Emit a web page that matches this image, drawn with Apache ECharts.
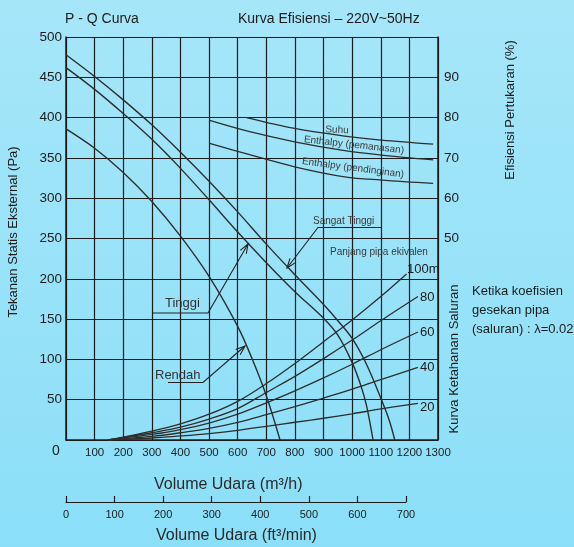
<!DOCTYPE html>
<html><head><meta charset="utf-8">
<script src="https://cdn.jsdelivr.net/npm/echarts@6/dist/echarts.min.js"></script>
<style>html,body{margin:0;padding:0;background:#98e2f8;}#c{width:574px;height:547px;}</style>
</head><body><div id="c"></div>
<script>
// ---- P-Q fan curves (m3/h, Pa) ----
const rendahQ = [0, 100, 200, 300, 400, 500, 600, 650, 700, 748];
const rendahP = [386, 362, 332, 296, 253, 203, 141, 101, 55, 0];
const tinggiQ = [0, 100, 200, 300, 400, 500, 600, 700, 800, 900, 950, 1000, 1030, 1050, 1073];
const tinggiP = [462, 435, 405, 373, 337, 298, 258, 220, 184, 151, 130, 96, 68, 43, 0];
const sangatQ = [0, 100, 200, 300, 400, 500, 600, 700, 800, 900, 950, 1000, 1050, 1100, 1130, 1149];
const sangatP = [478, 451, 422, 391, 357, 321, 283, 243, 205, 168, 148, 126, 94, 52, 24, 0];

// ---- duct resistance curves (equivalent pipe length) ----
const duct100Q = [147, 200, 300, 400, 500, 600, 700, 800, 900, 1000, 1100, 1190];
const duct100P = [0, 3.5, 11, 20, 32, 48, 70, 95, 122, 149, 178, 206];
const ductQ = [147, 200, 300, 400, 500, 600, 700, 800, 900, 1000, 1100, 1230];
const duct80P = [0, 3, 9, 16, 26, 39, 59, 79, 101, 124, 148, 178];
const duct60P = [0, 2.5, 7, 13, 21, 32, 46, 61, 77, 94, 112, 134];
const duct40P = [0, 1.6, 4.5, 9, 14.5, 22, 31.5, 41.5, 52, 63, 75, 90];
const duct20P = [0, 0.8, 2.5, 5, 8, 12, 17, 22, 27, 32.5, 38.5, 45.5];

// ---- efficiency curves (m3/h, %) ----
const suhuQ = [631, 799, 974, 1102, 1283];
const suhuE = [80, 77.3, 75.4, 74.4, 73.4];
const effQ = [502, 642, 799, 974, 1102, 1283];
const pemanasanE = [79.3, 76.5, 74, 71.8, 70.7, 69.5];
const pendinginanE = [73.6, 70.8, 67.8, 65.3, 64.5, 63.7];

// ---- axes ----
const flowMax = 1300, flowStep = 100;
const paMax = 500, paStep = 50;
const effMax = 100, effStep = 10;
const cfmMax = 700, cfmStep = 100;

const zip = (xs, ys) => xs.map((x, i) => [x, ys[i]]);

const chart = echarts.init(document.getElementById('c'), null, {renderer: 'canvas'});
const INK = '#1c1c1c';
const CURVE = '#2e2e2e';
const SANS = "'Liberation Sans',Arial,sans-serif";

function lineSeries(name, data, yIdx, width) {
  return {
    name, type: 'line', xAxisIndex: 0, yAxisIndex: yIdx, data,
    smooth: 0.35, showSymbol: false, symbol: 'none', silent: true,
    lineStyle: {color: CURVE, width: width || 1.4}, z: 3
  };
}

function txt(x, y, text, size, opts) {
  opts = opts || {};
  return {
    type: 'text', x, y, rotation: opts.rot || 0, z: 10, silent: true,
    style: {
      text, x: 0, y: 0, fill: opts.color || INK,
      font: (opts.weight || 'normal') + ' ' + size + 'px ' + (opts.family || SANS),
      textAlign: opts.align || 'left', textVerticalAlign: 'middle'
    }
  };
}
function poly(points) {
  return {type: 'polyline', z: 10, silent: true, shape: {points},
    style: {stroke: '#222', lineWidth: 1.1, fill: null}};
}
function arrowHead(from, tip) {
  const a = Math.atan2(tip[1] - from[1], tip[0] - from[0]);
  const L = 10, s = 0.35;
  const p1 = [tip[0] - L * Math.cos(a - s), tip[1] - L * Math.sin(a - s)];
  const p2 = [tip[0] - L * Math.cos(a + s), tip[1] - L * Math.sin(a + s)];
  return poly([p1, tip, p2]);
}

const option = {
  animation: false,
  backgroundColor: new echarts.graphic.LinearGradient(0, 0, 0, 1, [
    {offset: 0, color: '#a6e6f9'}, {offset: 1, color: '#8bdff8'}]),
  grid: [
    {left: 66, top: 37, width: 372, height: 403, containLabel: false},
    {left: 66, top: 501, width: 340, height: 1, containLabel: false}
  ],
  xAxis: [
    {gridIndex: 0, type: 'value', min: 0, max: flowMax, interval: flowStep,
      axisLine: {show: true, onZero: false, lineStyle: {color: INK, width: 1.5}},
      axisTick: {show: false},
      axisLabel: {color: INK, fontSize: 11.5, fontFamily: SANS, margin: 7,
        showMaxLabel: true, hideOverlap: false,
        formatter: v => v === 0 ? '' : String(v)},
      splitLine: {show: true, lineStyle: {color: INK, width: 1.2}}},
    {gridIndex: 1, type: 'value', min: 0, max: cfmMax, interval: cfmStep, position: 'bottom',
      axisLine: {show: true, onZero: false, lineStyle: {color: INK, width: 1.2}},
      axisTick: {show: true, inside: true, length: 6, lineStyle: {color: INK, width: 1.2}},
      axisLabel: {color: INK, fontSize: 11, fontFamily: SANS, margin: 7, showMaxLabel: true, hideOverlap: false},
      splitLine: {show: false}}
  ],
  yAxis: [
    {gridIndex: 0, type: 'value', min: 0, max: paMax, interval: paStep, position: 'left',
      axisLine: {show: true, onZero: false, lineStyle: {color: INK, width: 1.5}},
      axisTick: {show: false},
      axisLabel: {color: INK, fontSize: 13.5, fontFamily: SANS, margin: 4, showMaxLabel: true,
        formatter: v => v === 0 ? '' : String(v)},
      splitLine: {show: true, lineStyle: {color: INK, width: 1.2}}},
    {gridIndex: 0, type: 'value', min: 0, max: effMax, interval: effStep, position: 'right',
      axisLine: {show: true, onZero: false, lineStyle: {color: INK, width: 1.5}},
      axisTick: {show: false},
      axisLabel: {color: INK, fontSize: 13.5, fontFamily: SANS, margin: 6,
        formatter: v => (v >= 50 && v <= 90) ? String(v) : ''},
      splitLine: {show: false}},
    {gridIndex: 1, type: 'value', show: false, min: 0, max: 1}
  ],
  series: [
    lineSeries('Rendah', zip(rendahQ, rendahP), 0),
    lineSeries('Tinggi', zip(tinggiQ, tinggiP), 0),
    lineSeries('Sangat Tinggi', zip(sangatQ, sangatP), 0),
    lineSeries('100m', zip(duct100Q, duct100P), 0, 1.3),
    lineSeries('80', zip(ductQ, duct80P), 0, 1.3),
    lineSeries('60', zip(ductQ, duct60P), 0, 1.3),
    lineSeries('40', zip(ductQ, duct40P), 0, 1.3),
    lineSeries('20', zip(ductQ, duct20P), 0, 1.3),
    lineSeries('Suhu', zip(suhuQ, suhuE), 1, 1.3),
    lineSeries('Enthalpy (pemanasan)', zip(effQ, pemanasanE), 1, 1.3),
    lineSeries('Enthalpy (pendinginan)', zip(effQ, pendinginanE), 1, 1.3)
  ],
  graphic: [
    txt(65, 19, 'P - Q Curva', 14),
    txt(238, 19, 'Kurva Efisiensi \u2013 220V~50Hz', 14),
    txt(56, 451, '0', 14, {align: 'center'}),
    txt(13, 232, 'Tekanan Statis Eksternal (Pa)', 13, {rot: Math.PI / 2, align: 'center'}),
    txt(510, 110, 'Efisiensi Pertukaran (%)', 13, {rot: Math.PI / 2, align: 'center'}),
    txt(454, 359, 'Kurva Ketahanan Saluran', 13, {rot: Math.PI / 2, align: 'center'}),
    txt(472, 291, 'Ketika koefisien', 13),
    txt(472, 310, 'gesekan pipa', 13),
    txt(472, 329, '(saluran) : \u03bb=0.02', 13),
    txt(337, 130, 'Suhu', 10, {rot: -0.05, align: 'center', color: '#3a3a3a'}),
    txt(354, 145, 'Enthalpy (pemanasan)', 10, {rot: -0.11, align: 'center', color: '#3a3a3a'}),
    txt(353, 168, 'Enthalpy (pendinginan)', 10, {rot: -0.13, align: 'center', color: '#3a3a3a'}),
    txt(313, 221, 'Sangat Tinggi', 10, {color: '#3a3a3a'}),
    txt(330, 252, 'Panjang pipa ekivalen', 10, {color: '#3a3a3a'}),
    txt(407, 269, '100m', 13),
    txt(420, 297, '80', 13),
    txt(420, 332, '60', 13),
    txt(420, 367, '40', 13),
    txt(420, 407, '20', 13),
    txt(165, 303, 'Tinggi', 13, {color: '#333'}),
    txt(155, 375, 'Rendah', 13, {color: '#333'}),
    txt(154, 485, 'Volume Udara (m\u00b3/h)', 16, {color: '#2a2a2a'}),
    txt(156, 536, 'Volume Udara (ft\u00b3/min)', 16, {color: '#2a2a2a'}),
    // leaders
    poly([[153, 313], [208, 313], [248, 244]]),
    arrowHead([208, 313], [248, 244]),
    poly([[168, 382.5], [203, 382.5], [245, 346]]),
    arrowHead([203, 382.5], [245, 346]),
    poly([[381, 227.5], [318, 227.5], [287, 268]]),
    arrowHead([318, 227.5], [287, 268])
  ]
};
chart.setOption(option);
</script>
</body></html>
